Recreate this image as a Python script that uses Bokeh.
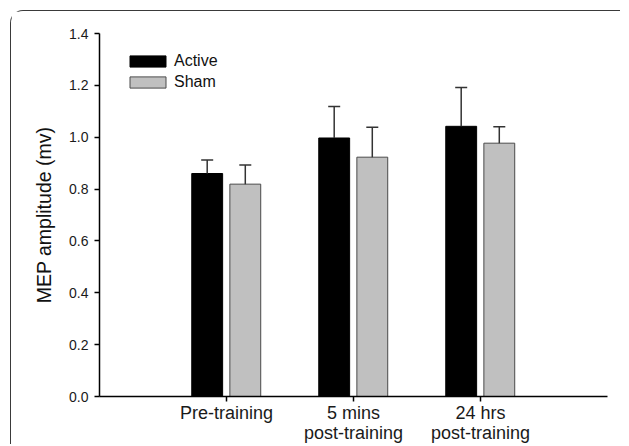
from bokeh.plotting import figure
from bokeh.models import (ColumnDataSource, FixedTicker, Range1d, Whisker, TeeHead,
                          Legend, LegendItem, PrintfTickFormatter)
from bokeh.embed import file_html
from bokeh.resources import INLINE
from bokeh.transform import dodge

# ---- data ----
categories = ["Pre-training", "5 mins\npost-training", "24 hrs\npost-training"]
groups = ["Active", "Sham"]
active_mean = [0.860, 0.997, 1.042]
active_err = [0.052, 0.121, 0.150]
sham_mean = [0.819, 0.923, 0.977]
sham_err = [0.074, 0.115, 0.063]
y_ticks = [0.0, 0.2, 0.4, 0.6, 0.8, 1.0, 1.2, 1.4]

pos = [i + 1 for i in range(len(categories))]
src = ColumnDataSource(dict(
    x=pos,
    active=active_mean,
    active_top=[m + e for m, e in zip(active_mean, active_err)],
    sham=sham_mean,
    sham_top=[m + e for m, e in zip(sham_mean, sham_err)],
))

FONT = "Liberation Sans"
p = figure(width=610, height=434, x_range=Range1d(0, len(categories) + 1),
           y_range=Range1d(0, 1.4),
           output_backend="svg", toolbar_location=None,
           min_border_left=88, min_border_top=22, min_border_right=14,
           min_border_bottom=47, margin=(10, 0, 0, 10),
           styles={"border-left": "1.5px solid #3a3a3a",
                   "border-top": "1.5px solid #3a3a3a",
                   "border-top-left-radius": "13px"})
p.outline_line_color = None
p.grid.grid_line_color = None
p.background_fill_color = "white"
p.border_fill_color = "white"

off_a, off_s, bw = -0.152, 0.148, 0.243
r_a = p.vbar(x=dodge("x", off_a, range=p.x_range), top="active", bottom=0, width=bw,
             source=src, fill_color="black", line_color="black", line_width=1)
r_s = p.vbar(x=dodge("x", off_s, range=p.x_range), top="sham", bottom=0, width=bw,
             source=src, fill_color="#c0c0c0", line_color="#4a4a4a", line_width=1)

for off, lo, hi in [(off_a, "active", "active_top"), (off_s, "sham", "sham_top")]:
    w = Whisker(base=dodge("x", off, range=p.x_range), lower=lo, upper=hi, source=src,
                dimension="height", line_color="#333333", line_width=1.5,
                upper_head=TeeHead(size=12, line_color="#333333", line_width=1.5),
                lower_head=None, level="overlay")
    p.add_layout(w)

# axes
for ax in (p.xaxis, p.yaxis):
    ax.axis_line_color = "black"
    ax.axis_line_width = 1.5
    ax.major_tick_line_color = "black"
    ax.major_tick_line_width = 1.5
    ax.major_tick_out = 5
    ax.major_tick_in = 0
    ax.minor_tick_line_color = None
    ax.major_label_text_font = FONT
    ax.major_label_text_color = "#1a1a1a"

p.yaxis.ticker = FixedTicker(ticks=y_ticks)
p.yaxis.formatter = PrintfTickFormatter(format="%.1f")
p.yaxis.major_label_text_font_size = "14px"
p.yaxis.axis_label = "MEP amplitude (mv)"
p.yaxis.axis_label_text_font = FONT
p.yaxis.axis_label_text_font_style = "normal"
p.yaxis.axis_label_text_font_size = "19.5px"
p.yaxis.axis_label_text_color = "#111111"
p.yaxis.axis_label_standoff = 11
p.yaxis.major_label_standoff = 6

p.xaxis.ticker = FixedTicker(ticks=pos)
p.xaxis.major_label_overrides = {float(v): c for v, c in zip(pos, categories)}
p.xaxis.major_label_text_font_size = "18px"
p.xaxis.major_label_text_line_height = 1.0
p.xaxis.major_label_standoff = 1

legend = Legend(items=[LegendItem(label=groups[0], renderers=[r_a]),
                       LegendItem(label=groups[1], renderers=[r_s])],
                location=(26, 305), orientation="vertical",
                glyph_width=45, glyph_height=14, label_height=14,
                spacing=3, padding=0, margin=0, label_standoff=4,
                label_text_font=FONT, label_text_font_size="16px",
                label_text_color="#111111",
                border_line_alpha=0, background_fill_alpha=0)
p.add_layout(legend)

open("out.html", "w").write(file_html(p, INLINE))
